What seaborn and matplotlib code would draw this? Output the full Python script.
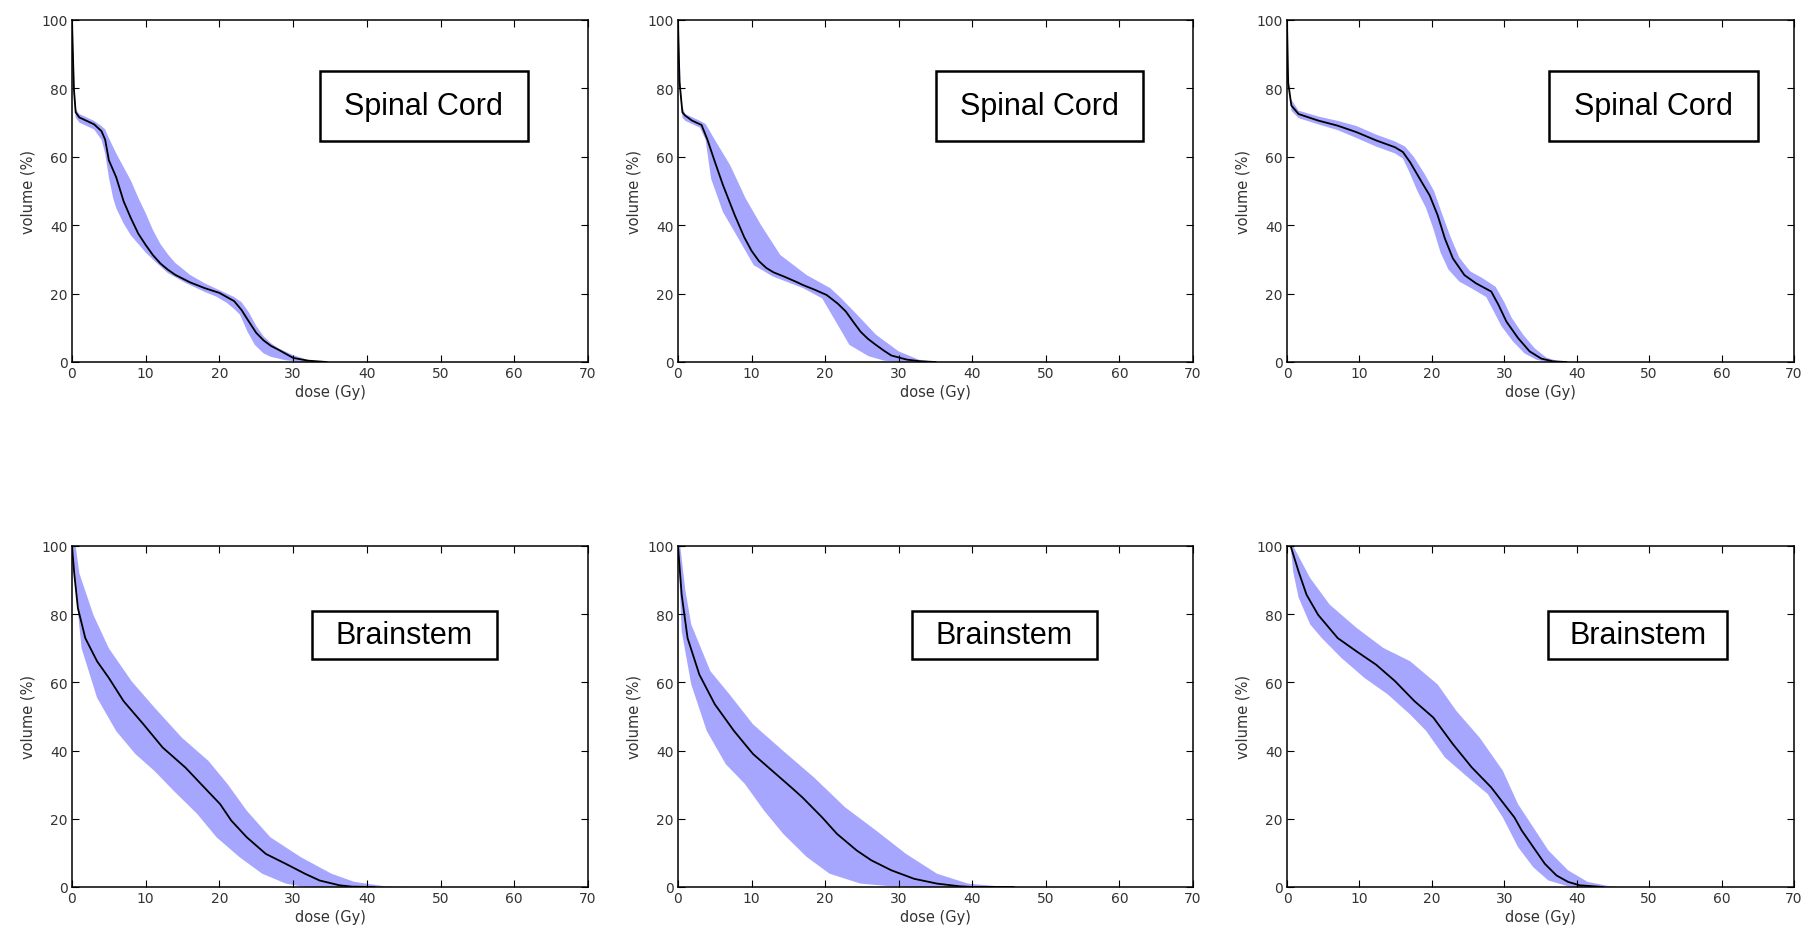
import numpy as np
import pandas as pd
import matplotlib
matplotlib.use("Agg")
import matplotlib.pyplot as plt
from matplotlib.patches import Rectangle
import seaborn as sns

# ---------------- data: dose (Gy) vs volume (%) ----------------
# Spinal Cord, plan 1
sc1_dose = [0, 0.25, 0.5, 1, 2, 3, 4, 4.5, 5, 6, 7, 8, 9, 10, 11, 12, 13, 14, 16, 18, 20, 21, 22, 23, 24, 25, 26, 27, 28, 30, 32, 34.5]
sc1_mean = [100, 80, 73, 71.5, 70.5, 69.5, 67.5, 65, 59, 54, 47, 42, 37.5, 34.2, 31.2, 28.8, 27, 25.5, 23.3, 21.6, 20.2, 19, 17.8, 15.2, 11.8, 8.5, 6.3, 4.7, 3.6, 1.2, 0.4, 0]
sc1_up_dose = [0, 0.5, 1, 2, 3, 4, 4.5, 5, 6, 7, 8, 9, 10, 11, 12, 13, 14, 16, 18, 20, 22, 23, 24, 25, 26, 27, 28, 30, 32, 34]
sc1_up = [100, 74, 72.5, 71.5, 70.5, 69, 68, 65.5, 61, 57, 53, 48, 43.5, 38.5, 34.5, 31.5, 29, 25.5, 23, 21, 19, 17.5, 14.5, 10.5, 7.5, 5.5, 4, 2, 0.6, 0]
sc1_lo_dose = [0, 0.25, 0.5, 1, 2, 3, 4, 4.5, 5, 5.6, 6, 7, 8, 10, 11.3, 13, 15.5, 18, 19.6, 21, 22, 22.8, 23.8, 24.8, 26, 27, 29, 31]
sc1_lo = [100, 78, 71.5, 70, 69, 68, 65, 61, 54, 47.8, 45, 40.5, 37, 32, 29.3, 26, 23, 20.5, 19.1, 17.3, 15.5, 13.8, 8.9, 5, 2.5, 1.5, 0.5, 0]

# Spinal Cord, plan 2
sc2_dose = [0, 0.2, 0.6, 1, 1.9, 3.2, 4, 5, 6.1, 7.7, 9, 10, 11, 12, 13, 14.4, 16, 17, 18.5, 20.2, 21.7, 22.8, 23.8, 24.8, 25.8, 26.9, 28, 29, 31.1, 33, 35]
sc2_mean = [100, 82, 73, 72, 70.6, 69.3, 65, 58.6, 51.8, 43, 36.5, 32.5, 29.5, 27.5, 26.2, 25, 23.5, 22.5, 21.2, 19.6, 17.1, 14.8, 11.8, 8.9, 6.8, 5, 3.3, 1.9, 0.7, 0.2, 0]
sc2_up_dose = [0, 0.5, 1, 2, 3, 3.75, 5, 7.1, 9.2, 11.3, 13.9, 17.5, 20.7, 22.2, 24.8, 26.9, 30, 32.7, 35]
sc2_up = [100, 75, 72.5, 71.5, 70.5, 69.6, 65, 57.5, 47.8, 40, 31.3, 25.4, 21.6, 18.6, 12.8, 8, 3.1, 0.7, 0]
sc2_lo_dose = [0, 0.3, 0.6, 1, 2, 3, 3.75, 4.5, 6.1, 7.7, 10.3, 12.9, 17, 19.6, 21.7, 23.3, 25.9, 28, 30]
sc2_lo = [100, 78, 71.5, 70.5, 69.5, 68.5, 65, 53.6, 43.9, 38, 28.3, 25, 21.6, 18.6, 10.9, 5, 1.7, 0.4, 0]

# Spinal Cord, plan 3
sc3_dose = [0, 0.16, 0.6, 1.6, 4.3, 7, 9.6, 12.3, 14.9, 16, 17, 18.6, 19.7, 20.8, 21.8, 22.9, 24.5, 26.1, 28.2, 29.2, 30.3, 31.9, 33.5, 35.1, 36.7, 38.5]
sc3_mean = [100, 81.7, 75, 72.5, 70.6, 69.1, 67.2, 64.8, 62.8, 61.4, 58.4, 52.6, 48.7, 42.9, 36.1, 30.3, 25.4, 23, 20.6, 16.7, 11.8, 7, 3.1, 1, 0.2, 0]
sc3_up_dose = [0, 0.5, 1.6, 4.3, 7, 9.6, 12.3, 14.9, 16.3, 17.5, 19, 20.3, 21.3, 22.5, 23.8, 25.3, 27, 28.8, 30, 31, 32.6, 34.2, 35.8, 37.5, 39]
sc3_up = [100, 77, 73.5, 71.8, 70.5, 69, 66.5, 64.5, 63, 60, 55, 50, 44, 37, 30.5, 26.5, 24.5, 22, 17.5, 13, 8, 4, 1.3, 0.2, 0]
sc3_lo_dose = [0, 0.6, 1.6, 4.3, 7, 9.6, 12.3, 14.9, 16, 16.8, 18, 19.2, 20.2, 21.2, 22.3, 23.8, 25.5, 27.5, 28.5, 29.6, 31.2, 32.8, 34.5, 36]
sc3_lo = [100, 73.5, 71.3, 69.5, 67.8, 65.5, 63, 61, 59.5, 56, 50, 45, 39, 32, 27, 23.5, 21.5, 19, 15, 10.5, 6, 2.5, 0.6, 0]

# Brainstem, plan 1
bs1_dose = [0, 0.3, 0.8, 1.8, 3.4, 5, 7, 9.7, 12.3, 15.4, 17.5, 20.1, 21.6, 23.7, 26.3, 29, 31.6, 33.6, 36.3, 38, 41]
bs1_mean = [100, 92, 81.8, 73, 66.2, 61.3, 54.5, 47.7, 40.9, 35, 30.2, 24.3, 19.5, 14.6, 9.7, 6.8, 3.9, 1.9, 0.5, 0.1, 0]
bs1_up_dose = [0, 0.5, 1, 2.9, 5, 8.1, 11.2, 14.9, 18.5, 21.1, 23.7, 26.9, 31, 35.2, 38.3, 42.5, 45.6]
bs1_up = [100, 100, 92, 79.8, 70, 60.3, 52.6, 43.8, 37, 30.2, 22.4, 14.6, 8.8, 3.9, 1.5, 0.2, 0]
bs1_lo_dose = [0, 0.8, 1.3, 3.4, 6, 8.6, 11.2, 13.8, 17, 19.6, 22.7, 25.8, 29, 31, 33]
bs1_lo = [100, 80.8, 70, 55.5, 45.7, 39, 34, 28.2, 21.4, 14.6, 8.8, 3.9, 1, 0.2, 0]

# Brainstem, plan 2
bs2_dose = [0, 0.5, 1.3, 2.9, 5, 7.6, 10.2, 12.8, 15.4, 16.9, 19.6, 21.6, 24.3, 26.3, 29, 32.1, 35.2, 38.3, 40, 45.6]
bs2_mean = [100, 85.7, 73, 62.3, 53.6, 45.8, 39, 34.1, 29.2, 26.3, 20.4, 15.6, 10.7, 7.8, 4.9, 2.4, 1, 0.2, 0, 0]
bs2_up_dose = [0, 0.3, 1, 1.8, 4.4, 7, 10.2, 14.3, 18.5, 22.7, 26.9, 31, 35.2, 39.4, 43.6, 47]
bs2_up = [100, 100, 87, 77, 63.3, 56.5, 47.7, 39.9, 32.1, 23.4, 16.6, 9.7, 3.9, 1, 0.2, 0]
bs2_lo_dose = [0, 0.5, 1.8, 3.9, 6.5, 9.1, 11.7, 14.3, 17.5, 20.6, 24.8, 29, 32]
bs2_lo = [100, 75, 59.4, 45.8, 36, 30.2, 22.4, 15.6, 8.8, 3.9, 1, 0.2, 0]

# Brainstem, plan 3
bs3_dose = [0, 0.5, 1.6, 2.7, 4.3, 7, 9.6, 12.3, 14.9, 17.6, 20.2, 22.9, 25.5, 28.2, 30.3, 31.4, 32.4, 34, 35.6, 37.2, 38.8, 40.4, 43.6]
bs3_mean = [100, 100, 92.5, 85.7, 79.8, 73, 69.1, 65.2, 60.4, 54.5, 49.7, 41.9, 35.1, 29.2, 23.4, 20.4, 16.6, 11.7, 6.8, 3.4, 1.5, 0.5, 0]
bs3_up_dose = [0, 0.85, 3.2, 5.9, 9.6, 13.3, 17, 20.8, 23.4, 26.6, 29.8, 31.9, 34, 36.1, 38.8, 41.5, 44.6, 46]
bs3_up = [100, 100, 90.6, 82.8, 76, 70.1, 66.2, 59.4, 51.6, 43.8, 34.1, 24.3, 17.5, 10.7, 4.9, 1.5, 0.2, 0]
bs3_lo_dose = [0, 0.5, 0.85, 1.6, 3.2, 4.8, 7.5, 10.7, 13.9, 17, 19.2, 21.8, 25.5, 27.7, 29.8, 31.9, 34, 36.1, 38.8, 40]
bs3_lo = [100, 100, 92.5, 84.9, 77, 73, 67.2, 61.3, 56.5, 50.6, 45.8, 38, 31.2, 27.3, 20.4, 11.7, 5.8, 1.9, 0.2, 0]

structure_names = ["Spinal Cord", "Spinal Cord", "Spinal Cord", "Brainstem", "Brainstem", "Brainstem"]
x_ticks = [0, 10, 20, 30, 40, 50, 60, 70]
y_ticks = [0, 20, 40, 60, 80, 100]

panels = [
    (sc1_dose, sc1_mean, sc1_up_dose, sc1_up, sc1_lo_dose, sc1_lo),
    (sc2_dose, sc2_mean, sc2_up_dose, sc2_up, sc2_lo_dose, sc2_lo),
    (sc3_dose, sc3_mean, sc3_up_dose, sc3_up, sc3_lo_dose, sc3_lo),
    (bs1_dose, bs1_mean, bs1_up_dose, bs1_up, bs1_lo_dose, bs1_lo),
    (bs2_dose, bs2_mean, bs2_up_dose, bs2_up, bs2_lo_dose, bs2_lo),
    (bs3_dose, bs3_mean, bs3_up_dose, bs3_up, bs3_lo_dose, bs3_lo),
]

# ---------------- layout ----------------
W, H = 1811, 937
fig = plt.figure(figsize=(W / 100, H / 100), dpi=100)

col_px = [(72, 588), (678, 1193), (1287, 1794)]
row_px = [(21, 363), (547, 888)]
# label box extents in axes fraction (x0, x1, y0, y1)
boxes = [
    (0.480, 0.884, 0.646, 0.850),
    (0.500, 0.903, 0.646, 0.850),
    (0.517, 0.929, 0.646, 0.850),
    (0.465, 0.824, 0.669, 0.810),
    (0.454, 0.814, 0.669, 0.810),
    (0.515, 0.868, 0.669, 0.810),
]

text_col = "#333333"
band_col = (0.65, 0.65, 1.0)

for i, (dose, mean, ud, uv, ld, lv) in enumerate(panels):
    r, c = divmod(i, 3)
    l, rgt = col_px[c]
    t, b = row_px[r]
    ax = fig.add_axes([l / W, 1 - b / H, (rgt - l) / W, (b - t) / H])

    # spread band: upper edge out, lower edge back
    poly_x = np.concatenate([ud, ld[::-1]])
    poly_y = np.concatenate([uv, lv[::-1]])
    ax.fill(poly_x, poly_y, color=band_col, lw=0, zorder=1)

    df = pd.DataFrame({"dose": dose, "volume": mean})
    sns.lineplot(data=df, x="dose", y="volume", ax=ax, color="black",
                 lw=1.3, sort=False, estimator=None, zorder=3)

    ax.set_xlim(0, 70)
    ax.set_ylim(0, 100)
    ax.set_xticks(x_ticks)
    ax.set_yticks(y_ticks)
    ax.tick_params(direction="in", length=5, width=0.8, top=True, right=True,
                   labelsize=10, colors="black", labelcolor=text_col, pad=3)
    for s in ax.spines.values():
        s.set_linewidth(1.1)
        s.set_color("black")
    ax.set_xlabel("dose (Gy)", fontsize=10.5, color=text_col, labelpad=3)
    ax.set_ylabel("volume (%)", fontsize=10.5, color=text_col, labelpad=4)

    x0, x1, y0, y1 = boxes[i]
    ax.add_patch(Rectangle((x0, y0), x1 - x0, y1 - y0, transform=ax.transAxes,
                           fill=True, facecolor="white", edgecolor="black",
                           lw=1.8, zorder=5))
    ax.text((x0 + x1) / 2, (y0 + y1) / 2, structure_names[i], transform=ax.transAxes,
            ha="center", va="center", fontsize=22, family="Liberation Sans",
            color="black", zorder=6)

fig.savefig("out.png", dpi=100)
